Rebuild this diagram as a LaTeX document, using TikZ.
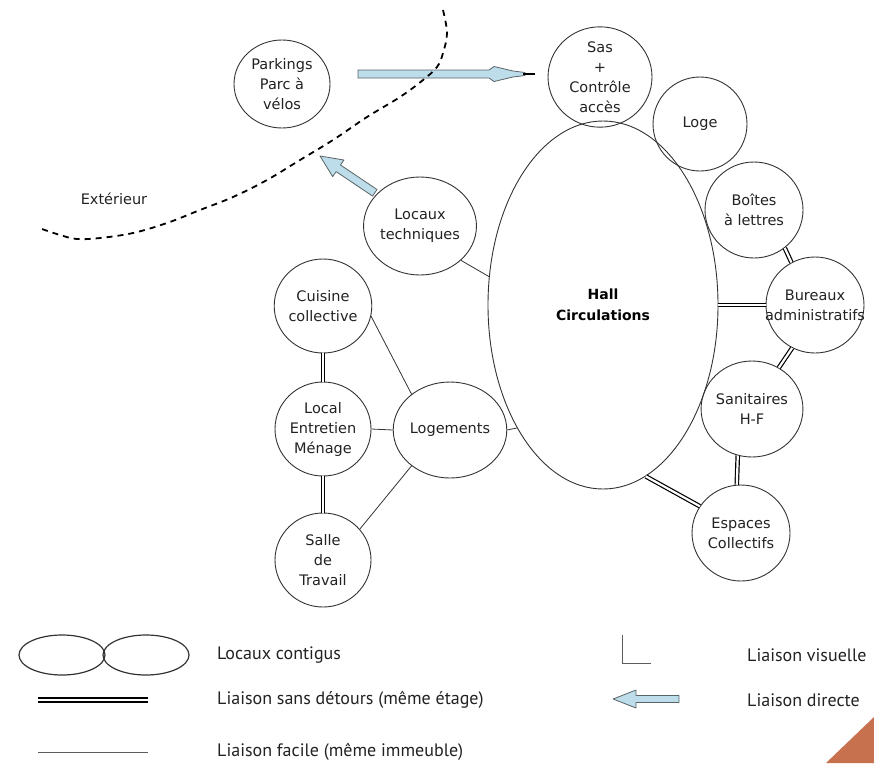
\documentclass[tikz,border=0pt]{standalone}
\usepackage{fontspec}
\setmainfont{DejaVu Sans}
\newfontfamily\legfont{PT Sans}
\usetikzlibrary{shapes.geometric}
\definecolor{arrowblue}{HTML}{BCDDE9}
\definecolor{arrowedge}{HTML}{5A6468}
\definecolor{lineink}{HTML}{333333}
\definecolor{legink}{HTML}{222222}
\definecolor{accent}{HTML}{C8714F}
\begin{document}
\begin{tikzpicture}[x=1pt,y=-1pt,
  room/.style={ellipse, draw=lineink, line width=0.9pt, inner sep=0pt, align=center,
    font=\fontsize{14.5}{20}\selectfont, text=legink, minimum width=#1, minimum height=#1},
  easy/.style={draw=lineink, line width=0.8pt},
  samefloor/.style={draw=black, line width=1.2pt, double=white, double distance=2.2pt},
  directarrow/.style={fill=arrowblue, draw=arrowedge, line width=0.8pt, line join=round},
  outside/.style={draw=black, line width=1.8pt, dash pattern=on 6pt off 5pt},
  legtext/.style={anchor=west, font=\legfont\fontsize{18}{20}\selectfont, text=legink, inner sep=0pt}
]
\useasboundingbox (0,0) rectangle (874,763);

% ---------- direct links (arrows) ----------
\coordinate (a1tail) at (358,74);
\coordinate (a1tip) at (535,74);
\path[directarrow] (358,70) -- (489,70) -- (494,66.5) -- (513,71) -- (525,72.5)
  -- (525,75.5) -- (513,77) -- (494,81.5) -- (489,78) -- (358,78) -- cycle;
\draw[black, line width=1.2pt] (523,74) -- (a1tip);

\coordinate (a2tip) at (320,156);
\path[directarrow] (a2tip) -- (343.9,160.0) -- (340.5,165.0) -- (377.0,189.5)
  -- (372.6,196.1) -- (336.1,171.6) -- (332.7,176.6) -- cycle;

% ---------- outside boundary ----------
\draw[outside, line cap=butt] plot[smooth, tension=0.6] coordinates {
  (443,10) (447,33) (443,53) (437,67) (423,80) (400,97) (367,117) (333,140)
  (300,160) (267,180) (233,197) (200,210) (167,223) (133,233) (100,238)
  (77,239) (60,235) (42,229)};
\node[font=\fontsize{14.5}{18}\selectfont, text=legink] (ext) at (114,199) {Extérieur};

% ---------- rooms ----------
\node[room=96, minimum height=88] (park) at (282,84) {Parkings\\Parc à\\vélos};
\node[room=104, minimum height=97] (sas) at (600,77) {Sas\\+\\Contrôle\\accès};
\node[room=94] (loge) at (700,124) {Loge};
\node[room=98, minimum height=96] (boites) at (754,210) {Boîtes\\à lettres};
\node[ellipse, draw=lineink, line width=0.9pt, inner sep=0pt, align=center,
  minimum width=230, minimum height=368, font=\bfseries\fontsize{14}{21}\selectfont, text=black]
  (hall) at (603,305) {Hall\\Circulations};
\node[room=98] (tech) at (420,226) {Locaux\\techniques};
\node[room=98, minimum height=96] (bur) at (815,305) {Bureaux\\\makebox[0pt][c]{administratifs}};
\node[room=96] (san) at (752,409) {Sanitaires\\H-F};
\node[room=98, minimum height=96] (esp) at (741,533) {Espaces\\Collectifs};
\node[room=96, minimum height=94] (cuis) at (323,306) {Cuisine\\collective};
\node[room=96, minimum height=94] (local) at (323,429) {Local\\Entretien\\Ménage};
\node[room=96] (loge2) at (450,430) {Logements};
\node[room=96, minimum height=94] (salle) at (323,560) {Salle\\de\\Travail};

% ---------- easy links ----------
\draw[easy] (tech.-40) -- (hall.166);
\draw[easy] (cuis.-12) -- (loge2.137);
\draw[easy] (local.east) -- (loge2.west);
\draw[easy] (salle.40) -- (loge2.-137);
\draw[easy] (loge2.east) -- (hall.235.6);

% ---------- same-floor links ----------
\draw[samefloor] (cuis.south) -- (local.north);
\draw[samefloor] (local.south) -- (salle.north);
\draw[samefloor] (hall.east) -- (bur.west);
\draw[samefloor] (boites.-51) -- (bur.119);
\draw[samefloor] (bur.242) -- (san.57);
\draw[samefloor] (san.-107) -- (esp.95);
\draw[samefloor] (hall.-76) -- (esp.147);

% ---------- legend ----------
\node[ellipse, draw=lineink, line width=1.2pt, minimum width=86, minimum height=40, inner sep=0pt] (lgA) at (62,655) {};
\node[ellipse, draw=lineink, line width=1.2pt, minimum width=86, minimum height=40, inner sep=0pt] (lgB) at (146,655) {};
\node[legtext] (t1) at (217,655) {Locaux contigus};

\coordinate (lsfA) at (38,700);
\coordinate (lsfB) at (148,700);
\draw[draw=black, line width=2.4pt, double=white, double distance=1.8pt] (lsfA) -- (lsfB);
\node[legtext] (t2) at (217,700) {Liaison sans détours (même étage)};

\coordinate (leA) at (38,752);
\coordinate (leB) at (148,752);
\draw[draw=lineink!80, line width=0.9pt] (leA) -- (leB);
\node[legtext] (t3) at (217,752) {Liaison facile (même immeuble)};

\coordinate (lvA) at (622,635);
\coordinate (lvB) at (622,663);
\coordinate (lvC) at (651,663);
\draw[draw=lineink!80, line width=1pt] (lvA) -- (lvB) -- (lvC);
\node[legtext] (t4) at (747,655) {Liaison visuelle};

\path[directarrow] (613,699) -- (636,690) -- (636,695.5) -- (679,695.5)
  -- (679,702.5) -- (636,702.5) -- (636,708) -- cycle;
\node[legtext] (t5) at (747,700) {Liaison directe};

\fill[accent] (826,763) -- (874,717) -- (874,763) -- cycle;
\end{tikzpicture}
\end{document}
